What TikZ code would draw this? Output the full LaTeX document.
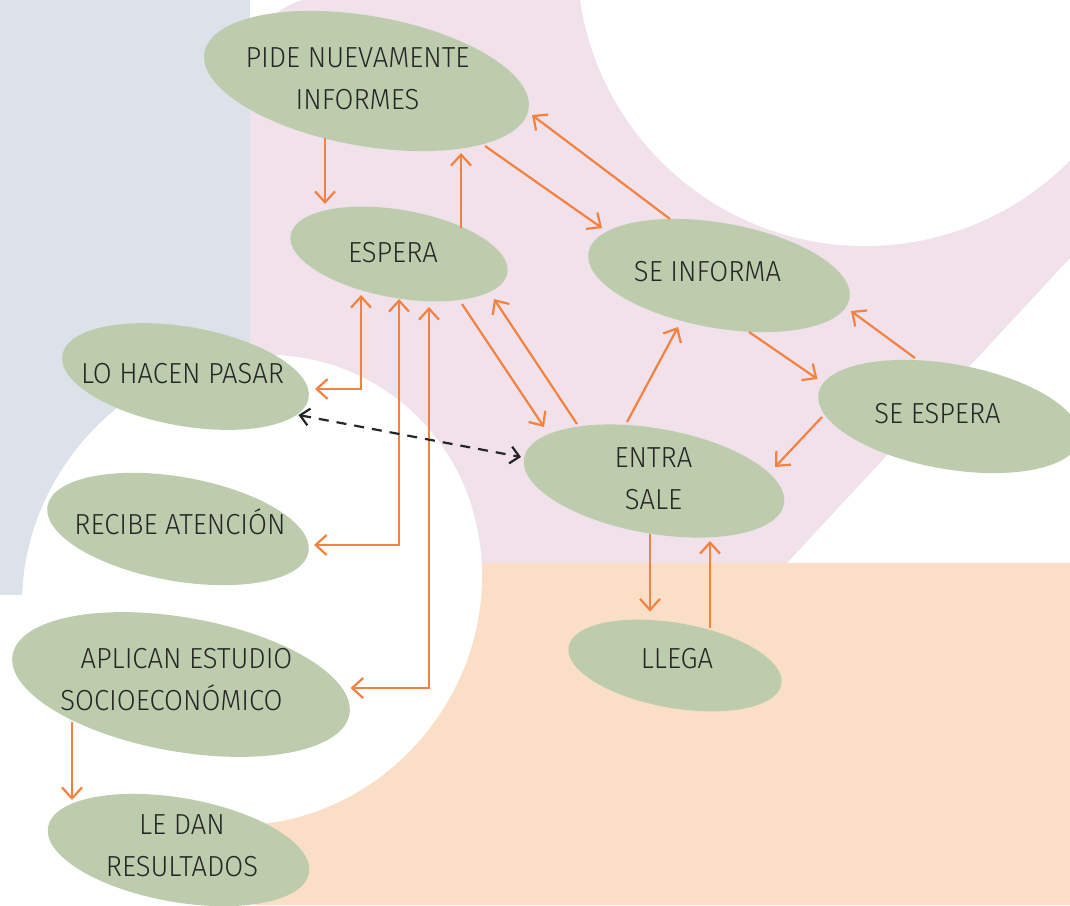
\documentclass[tikz,border=0pt]{standalone}
\usepackage{fontspec}
\newfontfamily\boxfont{Fira Sans Light}[FakeStretch=0.945]
\usetikzlibrary{arrows.meta, calc, shapes.geometric}
\definecolor{bluegray}{HTML}{DDE1EA}
\definecolor{blush}{HTML}{F1E1EB}
\definecolor{peach}{HTML}{FADEC5}
\definecolor{sage}{HTML}{BDCCAD}
\definecolor{tangerine}{HTML}{F5813F}
\definecolor{ink}{HTML}{262626}
\tikzset{
  blob/.style    = {ellipse, fill=sage, inner sep=0pt, rotate=-10},
  boxtext/.style = {font=\boxfont\fontsize{29}{42}\selectfont, text=ink,
                    align=center, inner sep=0pt},
  flow/.style    = {-{Straight Barb[length=11pt, width=20pt]}, line width=2.2pt, tangerine},
  twoway/.style  = {{Straight Barb[length=11pt, width=20pt]}-{Straight Barb[length=11pt, width=20pt]},
                    line width=2.2pt, tangerine},
  link/.style    = {{Straight Barb[length=9pt, width=17pt]}-{Straight Barb[length=9pt, width=17pt]},
                    line width=2.2pt, ink, dash pattern=on 10pt off 8pt},
}

\begin{document}
\begin{tikzpicture}[x=1pt, y=-1pt]
  \useasboundingbox (0,0) rectangle (1070,905);
  \clip (0,0) rectangle (1070,905);
  % backdrop
  \fill[blush] (250,45) .. controls (262,22) and (281,6) .. (303,0) -- (1070,0)
    -- (1070,258) -- (787,563) -- (250,563) -- cycle;
  \fill[bluegray] (0,0) rectangle (250,595);
  \fill[peach] (255,563) rectangle (1070,905);
  \fill[white] (865,-42) circle[radius=288];
  \fill[white, rotate around={55:(252,590)}] (252,590) ellipse[x radius=240, y radius=225];

  % states
  \node[blob, minimum width=329pt, minimum height=130pt] (pide)       at (366.5,81)  {};
  \node[blob, minimum width=220pt, minimum height=88pt]  (espera)     at (399,254)   {};
  \node[blob, minimum width=265pt, minimum height=105pt] (informa)    at (719,275.5) {};
  \node[blob, minimum width=265pt, minimum height=105pt] (seespera)   at (949,416.5) {};
  \node[blob, minimum width=264pt, minimum height=105pt] (entra)      at (654,481)   {};
  \node[blob, minimum width=216pt, minimum height=85pt]  (llega)      at (675,665.5) {};
  \node[blob, minimum width=250pt, minimum height=99pt]  (pasar)      at (185.5,376.5) {};
  \node[blob, minimum width=265pt, minimum height=104pt] (atencion)   at (178,529)   {};
  \node[blob, minimum width=342pt, minimum height=134pt] (estudio)    at (181,684.5) {};
  \node[blob, minimum width=265pt, minimum height=104pt] (resultados) at (178.5,850) {};

  \node[boxtext] (pide-t) at (357.5,79) {PIDE NUEVAMENTE\\INFORMES};
  \node[boxtext, anchor=base] (espera-t) at (393,262) {ESPERA};
  \node[boxtext, anchor=base] (informa-t) at (707.5,281) {SE INFORMA};
  \node[boxtext, anchor=base] (seespera-t) at (937.5,423) {SE ESPERA};
  \node[boxtext] (entra-t) at (653.5,479) {ENTRA\\SALE};
  \node[boxtext, anchor=base] (llega-t) at (677,668) {LLEGA};
  \node[boxtext, anchor=base] (pasar-t) at (182.5,383) {LO HACEN PASAR};
  \node[boxtext, anchor=base] (atencion-t) at (180,534) {RECIBE ATENCIÓN};
  \node[boxtext] (estudio-t) at (171.5,679.5) {\hspace*{30pt}APLICAN ESTUDIO\\SOCIOECONÓMICO};
  \node[boxtext] (resultados-t) at (182,845.5) {LE DAN\\RESULTADOS};

  % transitions
  \draw[flow] ($(pide)+(-41.5,57)$) -- ($(espera)+(-74,-50)$);
  \draw[flow] ($(espera)+(62,-26)$) -- ($(pide)+(94.5,72)$);
  \draw[flow] ($(pide)+(118.5,65)$) -- ($(informa)+(-117,-47.5)$);
  \draw[flow] ($(informa)+(-49,-56.5)$) -- ($(pide)+(165.5,34)$);
  \draw[flow] ($(informa)+(30,56.5)$) -- ($(seespera)+(-131.5,-37.5)$);
  \draw[flow] ($(seespera)+(-34,-58.5)$) -- ($(informa)+(132,35.5)$);
  \draw[flow] ($(seespera)+(-127,0.5)$) -- ($(entra)+(121,-14)$);
  \draw[flow] ($(entra)+(-27,-59)$) -- ($(informa)+(-41,51.5)$);
  \draw[flow] ($(espera)+(63,50)$) -- ($(entra)+(-110,-54)$);
  \draw[flow] ($(entra)+(-77,-57)$) -- ($(espera)+(95,45)$);
  \draw[flow] ($(entra)+(-4,53)$) -- ($(llega)+(-25,-54)$);
  \draw[flow] ($(llega)+(35,-37.5)$) -- ($(entra)+(56,60)$);
  \draw[twoway] ($(pasar)+(129.5,12.5)$) -| ($(espera)+(-38,41)$);
  \draw[twoway] ($(atencion)+(136,16)$) -| ($(espera)+(0,45)$);
  \draw[twoway] ($(estudio)+(169.5,3.5)$) -| ($(espera)+(30,53)$);
  \draw[flow] ($(estudio)+(-109,37.5)$) -- ($(resultados)+(-106.5,-50)$);
  \draw[link] ($(pasar)+(113,38.5)$) -- ($(entra)+(-133,-24)$);
\end{tikzpicture}
\end{document}
